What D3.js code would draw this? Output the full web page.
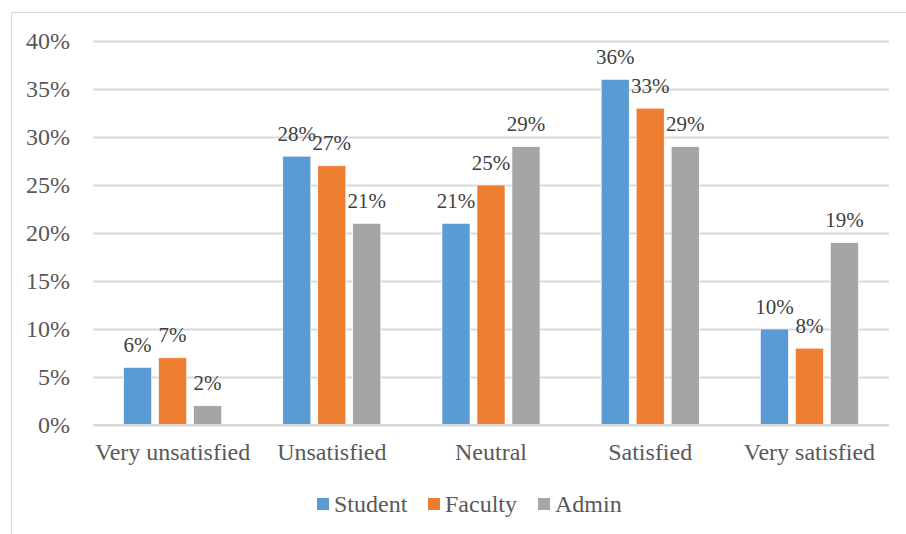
<!DOCTYPE html>
<html>
<head>
<meta charset="utf-8">
<script src="https://cdn.jsdelivr.net/npm/d3@7"></script>
<style>
  html, body { margin: 0; padding: 0; background: #fff; }
  svg { display: block; }
</style>
</head>
<body>
<svg id="chart" width="906" height="534"></svg>
<script>
// Satisfaction levels by respondent group
const categories = ["Very unsatisfied", "Unsatisfied", "Neutral", "Satisfied", "Very satisfied"];
const seriesNames = ["Student", "Faculty", "Admin"];
const student = [6, 28, 21, 36, 10];
const faculty = [7, 27, 25, 33, 8];
const admin = [2, 21, 29, 29, 19];
const yTicks = [0, 5, 10, 15, 20, 25, 30, 35, 40];
const colors = ["#5B9BD5", "#ED7D31", "#A5A5A5"];

const seriesValues = [student, faculty, admin];
const FONT = "Liberation Serif";

const svg = d3.select("#chart").attr("font-family", FONT);

// outer chart frame
svg.append("rect")
  .attr("x", 11.5).attr("y", 12.5)
  .attr("width", 1000).attr("height", 1000)
  .attr("fill", "none").attr("stroke", "#d9d9d9").attr("stroke-width", 1);

const plot = { left: 93, right: 889, top: 41, bottom: 425 };

const y = d3.scaleLinear().domain([0, 40]).range([plot.bottom, plot.top]);
const x0 = d3.scaleBand().domain(categories).range([plot.left, plot.right]).padding(0);
const gw = x0.bandwidth();
const x1 = d3.scaleBand().domain(seriesNames)
  .range([0, gw]).paddingInner(0.2).paddingOuter(0.874);

// value axis with gridlines
const yAxis = d3.axisLeft(y).tickValues(yTicks)
  .tickSize(-(plot.right - plot.left)).tickPadding(23)
  .tickFormat(d => d + "%");
const gy = svg.append("g").attr("transform", `translate(${plot.left},0)`).call(yAxis)
  .attr("font-family", FONT).attr("font-size", 24);
gy.select(".domain").remove();
gy.selectAll(".tick line").attr("stroke", "#d9d9d9").attr("stroke-width", 2);
gy.selectAll(".tick text").attr("fill", "#595959");

// bars and value labels
const groups = svg.append("g").selectAll("g")
  .data(categories)
  .join("g")
  .attr("transform", d => `translate(${x0(d)},0)`);

groups.each(function(cat, ci) {
  const g = d3.select(this);
  const rows = seriesNames.map((s, si) => ({ s, si, v: seriesValues[si][ci] }));
  g.selectAll("rect").data(rows).join("rect")
    .attr("x", d => x1(d.s))
    .attr("y", d => y(d.v))
    .attr("width", x1.bandwidth())
    .attr("height", d => y(0) - y(d.v))
    .attr("fill", d => colors[d.si])
    .attr("stroke", "#ffffff").attr("stroke-width", 0.6);
  g.selectAll("text.val").data(rows).join("text")
    .attr("class", "val")
    .attr("x", d => x1(d.s) + x1.bandwidth() / 2)
    .attr("y", d => y(d.v) - 15.5)
    .attr("text-anchor", "middle")
    .attr("fill", "#404040")
    .attr("font-size", 21)
    .text(d => d.v + "%");
});

// category axis labels
const xAxis = d3.axisBottom(x0).tickSize(0).tickPadding(0);
const gx = svg.append("g").attr("transform", `translate(0,${plot.bottom})`).call(xAxis)
  .attr("font-family", FONT).attr("font-size", 24);
gx.select(".domain").remove();
gx.selectAll(".tick text").attr("fill", "#595959").attr("y", 35).attr("dy", null);

// baseline
svg.append("line")
  .attr("x1", plot.left).attr("x2", plot.right)
  .attr("y1", y(0)).attr("y2", y(0))
  .attr("stroke", "#d9d9d9").attr("stroke-width", 2);

// legend
const legendX = [317, 428, 538];
const legend = svg.append("g");
seriesNames.forEach((s, i) => {
  legend.append("rect")
    .attr("x", legendX[i]).attr("y", 498)
    .attr("width", 12).attr("height", 12)
    .attr("fill", colors[i]);
  legend.append("text")
    .attr("x", legendX[i] + 17).attr("y", 512)
    .attr("fill", "#595959").attr("font-size", 24)
    .text(s);
});
</script>
</body>
</html>
